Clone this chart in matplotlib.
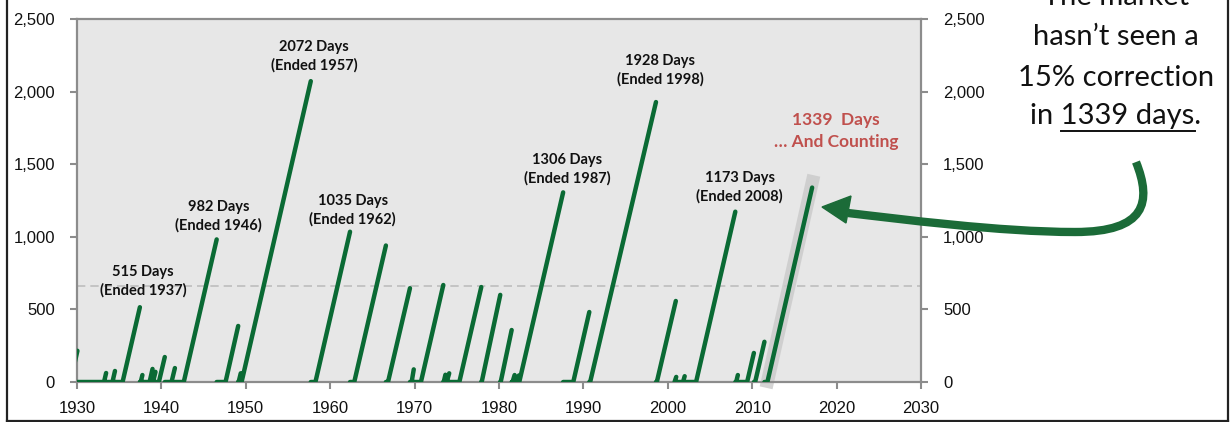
import matplotlib
matplotlib.use("Agg")
import matplotlib.pyplot as plt
from matplotlib.path import Path
from matplotlib.patches import PathPatch, Polygon
from matplotlib.lines import Line2D
from matplotlib.ticker import FuncFormatter

# ---------------- data ----------------
# each run without a 15% correction: start year, end year, days reached
run_start = [1929.2, 1933.2, 1934.2, 1935.4, 1937.55, 1938.6, 1939.0, 1939.7, 1941.2,
             1942.65, 1947.6, 1949.15, 1949.5, 1958.25, 1962.85, 1966.85, 1969.65,
             1970.75, 1973.45, 1973.8, 1975.3, 1977.95, 1980.2, 1981.6, 1982.1,
             1982.4, 1988.8, 1990.8, 1998.7, 2000.8, 2001.8, 2003.35, 2008.1,
             2009.4, 2010.35, 2011.8]
run_end = [1930.05, 1933.45, 1934.5, 1937.45, 1937.75, 1938.95, 1939.3, 1940.4, 1941.6,
           1946.55, 1949.1, 1949.4, 1957.7, 1962.35, 1966.6, 1969.45, 1969.9,
           1973.4, 1973.65, 1974.1, 1977.9, 1980.15, 1981.5, 1981.85, 1982.35,
           1987.6, 1990.7, 1998.6, 2000.95, 2001.0, 2002.0, 2008.0, 2008.3,
           2010.2, 2011.45, 2017.1]
run_days = [215, 62, 76, 515, 48, 90, 70, 172, 96,
            982, 386, 60, 2072, 1035, 940, 646, 87,
            668, 50, 60, 654, 600, 358, 48, 45,
            1306, 482, 1928, 558, 35, 40, 1173, 48,
            200, 277, 1339]

labeled_days = [515, 982, 2072, 1035, 1306, 1928, 1173]
labeled_years = [1937, 1946, 1957, 1962, 1987, 1998, 2008]
current_days = 1339
average_days = 663

x_ticks = [1930, 1940, 1950, 1960, 1970, 1980, 1990, 2000, 2010, 2020, 2030]
y_ticks = [0, 500, 1000, 1500, 2000, 2500]

# label placement (x year, y value of text centre)
label_pos_x = [1937.8, 1946.8, 1958.1, 1962.65, 1988.1, 1999.1, 2008.5]
label_pos_y = [696, 1143, 2243, 1184, 1467, 2147, 1343]

# ---------------- build series (no line drawn across the one-day drop) ----------------
xs, ys = [], []
for s, e, d in zip(run_start, run_end, run_days):
    xs += [s, e, float("nan"), e]
    ys += [0, d, float("nan"), 0]
xs, ys = xs[:-2], ys[:-2]   # current run still counting

W, H = 1231, 422
fig = plt.figure(figsize=(W / 100, H / 100), dpi=100)
fig.patch.set_facecolor("white")

L, R, T, B = 77, 921, 19, 382
ax = fig.add_axes([L / W, 1 - B / H, (R - L) / W, (B - T) / H])
ax.set_facecolor("#E7E7E7")

GREEN = "#0A6A34"

# highlight band behind current run
ax.plot([run_start[-1] - 0.15, run_end[-1] + 0.2], [-40, current_days + 85],
        color="#CACACA", lw=9.5, solid_capstyle="butt", clip_on=False, zorder=2, alpha=0.8)

ax.axhline(average_days, color="#BDBDBD", lw=1.2, ls=(0, (5, 3)), zorder=1)
ax.plot(xs, ys, color=GREEN, lw=3.2, zorder=3, solid_joinstyle="round", solid_capstyle="round")

ax.set_xlim(1930, 2030)
ax.set_ylim(0, 2500)
ax.set_xticks(x_ticks)
ax.set_yticks(y_ticks)
ax.yaxis.set_major_formatter(FuncFormatter(lambda v, p: f"{int(v):,}"))
ax.tick_params(axis="both", direction="out", length=5, width=1.5, color="#8C8C8C",
               labelsize=12, labelcolor="#111111", pad=9)
ax.tick_params(axis="y", right=True, labelright=True, pad=11)
for sp in ax.spines.values():
    sp.set_color("#8C8C8C")
    sp.set_linewidth(1.6)
for t in ax.get_xticklabels() + ax.yaxis.get_ticklabels():
    t.set_fontfamily("Liberation Sans")
for t in ax.yaxis.get_majorticklabels():
    t.set_fontfamily("Liberation Sans")

# annotations
for d, yr, tx, ty in zip(labeled_days, labeled_years, label_pos_x, label_pos_y):
    ax.text(tx, ty, f"{d} Days\n(Ended {yr})", ha="center", va="center",
            fontsize=10.5, fontweight="bold", family="Lato", color="#111111",
            linespacing=1.35, zorder=5)
ax.text(2019.9, 1729, f"{current_days}  Days\n\u2026 And Counting", ha="center", va="center",
        fontsize=12.5, fontweight="bold", family="Lato", color="#C0504D",
        linespacing=1.45, zorder=5)

# handwritten note
note_x = 1116 / W
note_font = dict(fontsize=21, family="Lato", color="#111111", ha="center", va="baseline")
fig.text(note_x, 1 - 5 / H, "The market", **note_font)
fig.text(note_x, 1 - 45 / H, "hasn\u2019t seen a", **note_font)
fig.text(note_x, 1 - 86 / H, "15% correction", **note_font)
full = fig.text(note_x, 1 - 124 / H, f"in {current_days} days.", **note_font)

fig.canvas.draw()
r = fig.canvas.get_renderer()
bb = full.get_window_extent(r)
pre = fig.text(0, 0, "in ", **note_font)
post = fig.text(0, 0, ".", **note_font)
w_pre = pre.get_window_extent(r).width
w_post = post.get_window_extent(r).width
pre.remove(); post.remove()
ux0 = (bb.x0 + w_pre) / W
ux1 = (bb.x1 - w_post) / W
uy = 1 - 131 / H
fig.add_artist(Line2D([ux0, ux1], [uy, uy], transform=fig.transFigure, color="#111111", lw=1.4))

# curved arrow
def f(px, py):
    return (px / W, 1 - py / H)

verts = [f(1136, 162), f(1152, 202), f(1146, 232), f(1075, 232),
         f(1000, 232), f(900, 219), f(848, 213)]
codes = [Path.MOVETO, Path.CURVE4, Path.CURVE4, Path.CURVE4,
         Path.CURVE4, Path.CURVE4, Path.CURVE4]
fig.add_artist(PathPatch(Path(verts, codes), transform=fig.transFigure, fill=False,
                         edgecolor="#1B6B38", lw=6, capstyle="butt"))
fig.add_artist(Polygon([f(822, 207), f(851, 196), f(846, 223)], closed=True,
                       transform=fig.transFigure, facecolor="#1B6B38", edgecolor="#1B6B38", lw=1))

# outer frame (left, bottom, right)
for xy in ([[6.5, 6.5], [0, 421]], [[6.5, 1227.5], [421, 421]], [[1227.5, 1227.5], [0, 421]]):
    fig.add_artist(Line2D([x / W for x in xy[0]], [1 - y / H for y in xy[1]],
                          transform=fig.transFigure, color="#222222", lw=1.6))

fig.savefig("out.png", dpi=100)
